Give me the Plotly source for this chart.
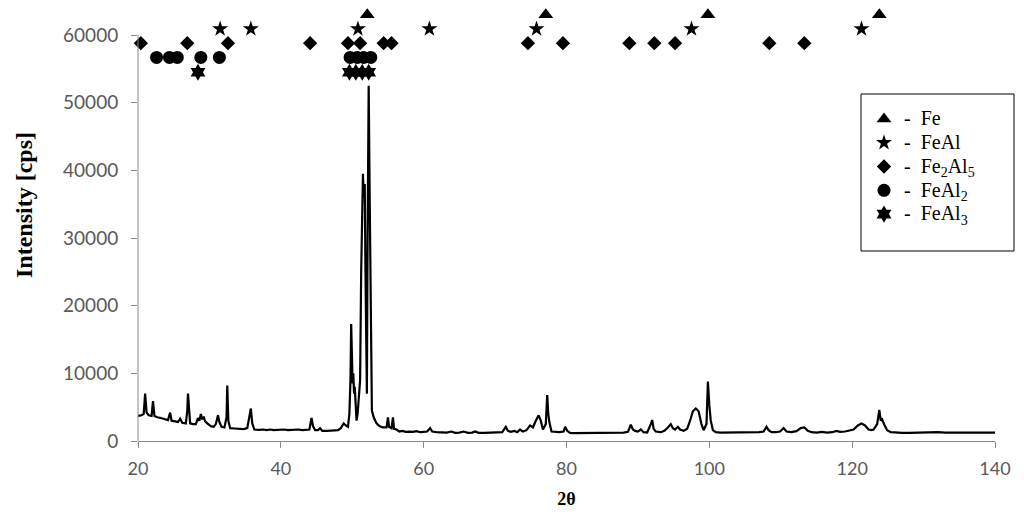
import plotly.graph_objects as go

# XRD pattern: 2-theta (deg) and intensity (cps)
two_theta = [
    20.0, 20.5, 20.8, 21.0, 21.2, 21.5, 21.9, 22.1, 22.3, 22.7, 23.2, 23.7, 24.2, 24.5, 24.7,
    25.2, 25.6, 25.9, 26.2, 26.7, 26.9, 27.0, 27.15, 27.3, 27.7, 28.1, 28.4, 28.6, 28.8, 29.0,
    29.2, 29.4, 29.7, 30.2, 30.6, 30.9, 31.2, 31.4, 31.7, 32.1, 32.4, 32.5, 32.65, 32.9, 33.5,
    34.2, 34.8, 35.3, 35.6, 35.8, 36.0, 36.3, 37.0, 37.5, 38.0, 38.5, 39.0, 39.5, 40.0, 40.5,
    41.0, 41.5, 42.0, 42.5, 43.0, 43.5, 44.0, 44.3, 44.5, 44.8, 45.2, 45.5, 45.8, 46.5, 47.0,
    47.5, 48.0, 48.4, 48.8, 49.1, 49.4, 49.6, 49.75, 49.85, 49.95, 50.05, 50.15, 50.25, 50.35, 50.5,
    50.6, 50.75, 50.9, 51.1, 51.25, 51.4, 51.5, 51.6, 51.75, 51.85, 51.95, 52.05, 52.15, 52.3, 52.45,
    52.6, 52.75, 53.0, 53.4, 53.8, 54.3, 54.8, 55.0, 55.15, 55.5, 55.7, 55.85, 56.2, 56.6, 57.0,
    57.5, 58.0, 58.5, 59.0, 59.5, 60.0, 60.5, 60.9, 61.2, 61.8, 62.5, 63.2, 63.9, 64.4, 65.0,
    65.6, 66.2, 66.8, 67.2, 67.7, 68.5, 69.3, 70.0, 70.7, 71.0, 71.5, 71.8, 72.2, 72.7, 73.1,
    73.5, 73.9, 74.4, 74.9, 75.3, 75.7, 76.1, 76.4, 76.7, 77.1, 77.3, 77.45, 77.6, 77.9, 78.5,
    79.0, 79.6, 79.8, 80.1, 80.5, 81.0, 82.0, 83.0, 84.0, 85.0, 86.0, 87.0, 88.0, 88.6, 89.0,
    89.3, 89.6, 90.0, 90.4, 90.8, 91.3, 91.8, 92.0, 92.2, 92.5, 93.2, 93.7, 94.2, 94.6, 94.9,
    95.2, 95.6, 95.9, 96.4, 96.9, 97.3, 97.7, 98.1, 98.5, 98.9, 99.2, 99.6, 99.8, 100.0, 100.2,
    100.5, 100.9, 101.5, 102.2, 103.0, 104.0, 105.0, 106.0, 107.0, 107.6, 108.0, 108.3, 108.7, 109.3, 109.9,
    110.4, 110.8, 111.5, 112.2, 112.8, 113.3, 113.8, 114.3, 115.0, 115.8, 116.5, 117.2, 117.8, 118.3, 119.0,
    119.6, 120.2, 120.8, 121.3, 121.8, 122.3, 122.7, 123.0, 123.5, 123.8, 124.0, 124.2, 124.5, 124.9, 125.4,
    126.0, 127.0, 128.0, 129.0, 130.0, 131.0, 132.0, 133.0, 134.0, 135.0, 136.0, 137.0, 138.0, 139.0, 140.0,
]
intensity = [
    3700, 3800, 4000, 7000, 4200, 3800, 3700, 5900, 3700, 3500, 3400, 3200, 3100, 4200, 3000,
    2900, 2800, 3300, 2700, 2600, 4500, 7000, 4000, 2600, 2500, 2500, 3400, 3000, 4000, 3200,
    3600, 2900, 2600, 2200, 2100, 2500, 3800, 2800, 2100, 2000, 3500, 8200, 3000, 1900, 1850,
    1800, 1750, 1900, 3500, 4800, 2600, 1700, 1650, 1700, 1600, 1700, 1600, 1650, 1600, 1700,
    1600, 1650, 1600, 1700, 1600, 1600, 1700, 3400, 2200, 1600, 1600, 1900, 1500, 1500, 1500,
    1550, 1600, 1900, 2600, 2300, 2100, 4000, 9000, 17300, 11000, 8500, 10000, 7000, 8000, 4500,
    3000, 4000, 6000, 9000, 25000, 33000, 39500, 36000, 38000, 25000, 12000, 7000, 30000, 52500, 35000,
    15000, 4500, 3500, 2600, 2200, 2000, 2000, 3500, 2100, 1900, 3500, 1800, 1700, 1400, 1500,
    1350, 1400, 1350, 1450, 1300, 1350, 1400, 1900, 1400, 1300, 1250, 1250, 1400, 1200, 1250,
    1400, 1200, 1250, 1400, 1200, 1200, 1250, 1250, 1350, 1300, 2100, 1500, 1350, 1500, 1300,
    1700, 1400, 1600, 2300, 2000, 3000, 3800, 3000, 1700, 2500, 6800, 4000, 2800, 1400, 1300,
    1300, 1400, 2100, 1500, 1200, 1150, 1150, 1150, 1200, 1150, 1200, 1200, 1250, 1350, 2400,
    1700, 1500, 1400, 1700, 1300, 1250, 2500, 3100, 1800, 1400, 1300, 1500, 2000, 2500, 1900,
    1700, 2100, 1700, 1500, 1800, 3000, 4400, 4800, 4400, 2500, 1600, 2500, 8800, 5300, 3000,
    1600, 1300, 1250, 1250, 1250, 1250, 1250, 1250, 1300, 1400, 2100, 1600, 1300, 1300, 1400,
    1900, 1400, 1300, 1450, 1900, 2000, 1500, 1300, 1250, 1350, 1250, 1300, 1500, 1350, 1400,
    1600, 1700, 2300, 2600, 2300, 1700, 1600, 1700, 2500, 4600, 3000, 3200, 2400, 1600, 1300,
    1250, 1200, 1200, 1250, 1200, 1250, 1300, 1250, 1250, 1200, 1200, 1250, 1200, 1200, 1250,
]

# Phase markers (2-theta positions and the row height they sit at)
fe_x = [52.1, 77.1, 99.8, 123.8]
fe_y = [63000] * len(fe_x)
feal_x = [31.5, 35.8, 50.8, 60.8, 75.8, 97.5, 121.3]
feal_y = [60900] * len(feal_x)
fe2al5_x = [20.4, 26.9, 32.6, 44.1, 49.4, 51.1, 54.4, 55.5, 74.6, 79.5, 88.8, 92.3, 95.2, 108.4, 113.3]
fe2al5_y = [58800] * len(fe2al5_x)
feal2_x = [22.6, 24.4, 25.5, 28.8, 31.4, 49.7, 50.7, 51.6, 52.6]
feal2_y = [56700] * len(feal2_x)
feal3_x = [28.4, 49.6, 50.5, 51.4, 52.3]
feal3_y = [54500] * len(feal3_x)

phase_labels = ["Fe", "FeAl", "Fe<sub>2</sub>Al<sub>5</sub>", "FeAl<sub>2</sub>", "FeAl<sub>3</sub>"]

y_ticks = [0, 10000, 20000, 30000, 40000, 50000, 60000]
x_ticks = [20, 40, 60, 80, 100, 120, 140]
y_axis_top = 60000

NB = "\u00a0"
fig = go.Figure()
fig.add_trace(go.Scatter(x=two_theta, y=intensity, mode="lines",
                         line=dict(color="black", width=2.2), showlegend=False,
                         hoverinfo="skip"))

series = [
    (fe_x, fe_y, "triangle-up", 13),
    (feal_x, feal_y, "star", 12),
    (fe2al5_x, fe2al5_y, "diamond", 11),
    (feal2_x, feal2_y, "circle", 13),
    (feal3_x, feal3_y, "hexagram", 13),
]
for label, (xs, ys, sym, sz) in zip(phase_labels, series):
    name = '<span style="font-size:20px">-' + NB * 2 + label + "</span>"
    fig.add_trace(go.Scatter(x=xs, y=ys, mode="markers", name=name,
                             marker=dict(symbol=sym, size=sz, color="black",
                                         line=dict(width=0)),
                             cliponaxis=False))

# page geometry (the page body adds an 8 px offset)
OFF = 8
W, H = 1024 - OFF, 522 - OFF
PX0, PX1 = 138, 995      # plot area left/right on the page
PY_BOTTOM, PY_TOP = 441, 8   # plot area bottom/top on the page
YMAX = 64000

def px_x(p):
    return (p - PX0) / (PX1 - PX0)

def px_y(p):
    return (PY_BOTTOM - p) / (PY_BOTTOM - PY_TOP)

fig.add_shape(type="rect", xref="paper", yref="paper",
              x0=px_x(861), x1=px_x(1014), y0=px_y(251), y1=px_y(94),
              line=dict(color="black", width=1), fillcolor="white", layer="below")
# y axis line (stops at the top tick)
fig.add_shape(type="line", xref="paper", yref="y", x0=0, x1=0, y0=0, y1=y_axis_top,
              line=dict(color="#898989", width=1))

# y axis title, placed as in the reference
fig.add_annotation(text="<b>Intensity [cps]</b>", textangle=-90,
                   xref="paper", yref="paper", x=px_x(24), y=px_y(205),
                   xanchor="center", yanchor="middle", showarrow=False,
                   font=dict(family="Liberation Serif", size=24, color="black"))

fig.update_layout(
    width=W, height=H,
    margin=dict(l=PX0 - OFF, r=W - (PX1 - OFF), t=PY_TOP - OFF, b=H - (PY_BOTTOM - OFF), pad=0),
    paper_bgcolor="white", plot_bgcolor="white",
    showlegend=True,
    legend=dict(x=px_x(864), y=px_y(102), xanchor="left", yanchor="top",
                bgcolor="rgba(0,0,0,0)", borderwidth=0,
                font=dict(family="Liberation Serif", size=16, color="black"),
                tracegroupgap=0),
    xaxis=dict(range=[20, 140], tickvals=x_ticks, ticktext=[str(v) for v in x_ticks],
               showgrid=False, zeroline=False, showline=True, linecolor="#898989", linewidth=1,
               ticks="outside", ticklen=6, tickcolor="#898989", ticklabelstandoff=5,
               tickfont=dict(family="Lato", size=18, color="#595959"),
               title=dict(text="<b>2θ</b>", font=dict(family="Liberation Serif", size=18, color="black"),
                          standoff=14)),
    yaxis=dict(range=[0, YMAX], tickvals=y_ticks, ticktext=[str(v) for v in y_ticks],
               showgrid=False, zeroline=False, showline=False,
               ticks="outside", ticklen=6, tickcolor="#898989", ticklabelstandoff=9,
               tickfont=dict(family="Lato", size=19, color="#595959")),
)

fig.write_html("out.html")
